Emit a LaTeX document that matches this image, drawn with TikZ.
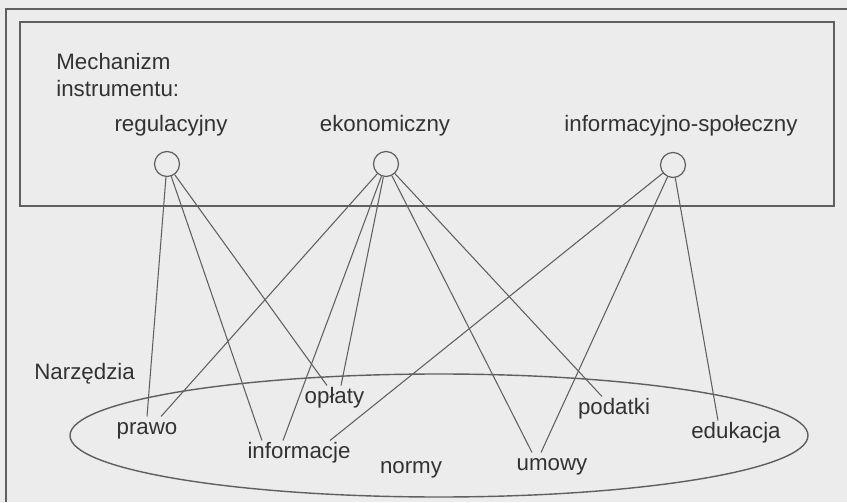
\documentclass[tikz,border=0pt]{standalone}
\usepackage{fontspec}
\setmainfont{Liberation Sans}
\usepackage{tikz}

\definecolor{scanbg}{RGB}{236,236,236}
\definecolor{ink}{RGB}{50,50,50}
\definecolor{wire}{RGB}{95,95,95}

\begin{document}
\begin{tikzpicture}[
    txt/.style={font=\fontsize{12.7}{15.3}\selectfont, text=ink, inner sep=0pt},
    tool/.style={txt, anchor=base, inner sep=0.09cm, text height=0.72em, text depth=0.2em},
    mech/.style={circle, draw=wire, line width=0.7pt, minimum size=0.5cm, inner sep=0pt},
    link/.style={draw=wire, line width=0.6pt}
]

    % Page (scan background)
    \path[use as bounding box, fill=scanbg] (0,0) rectangle (16.94,10.04);

    % =====================================================
    % FRAMES
    % =====================================================
    \draw[wire, line width=1.1pt] (0.12,0) -- (0.12,9.86) -- (16.94,9.86);
    \draw[wire, line width=1.1pt] (0.40,5.92) rectangle (16.68,9.60);

    % =====================================================
    % TOP: MECHANISMS
    % =====================================================
    \node[txt, anchor=north west, align=left] (title) at (1.12,8.98) {Mechanizm\\instrumentu:};

    \node[txt, anchor=base] (regT) at (3.42,7.40) {regulacyjny};
    \node[txt, anchor=base] (ekoT) at (7.70,7.40) {ekonomiczny};
    \node[txt, anchor=base] (infT) at (13.62,7.40) {informacyjno-społeczny};

    \node[mech] (reg) at (3.34,6.76) {};
    \node[mech] (eko) at (7.72,6.76) {};
    \node[mech] (inf) at (13.46,6.74) {};

    % =====================================================
    % BOTTOM: TOOLS
    % =====================================================
    \node[txt, anchor=base west] (tools) at (0.68,2.46) {Narzędzia};

    % The set of tools
    \draw[wire, line width=0.8pt] (8.78,1.33) ellipse (7.38 and 1.23);

    \node[tool] (prawo)    at (2.94,1.36)  {prawo};
    \node[tool] (oplaty)   at (6.69,1.98)  {opłaty};
    \node[tool] (info)     at (5.98,0.88)  {informacje};
    \node[tool] (normy)    at (8.22,0.58)  {normy};
    \node[tool] (umowy)    at (11.04,0.64) {umowy};
    \node[tool] (podatki)  at (12.28,1.76) {podatki};
    \node[tool] (edukacja) at (14.72,1.28) {edukacja};

    % =====================================================
    % LINKS
    % =====================================================
    % regulacyjny
    \draw[link] (reg) -- (prawo.north);
    \draw[link] (reg) -- ([xshift=-0.74cm]info.north);
    \draw[link] (reg) -- ([xshift=-0.15cm]oplaty.north);

    % ekonomiczny
    \draw[link] (eko) -- ([xshift=0.28cm]prawo.north);
    \draw[link] (eko) -- ([xshift=-0.32cm]info.north);
    \draw[link] (eko) -- ([xshift=0.13cm]oplaty.north);
    \draw[link] (eko) -- ([xshift=-0.40cm]umowy.north);
    \draw[link] (eko) -- ([xshift=-0.24cm]podatki.north);

    % informacyjno-spoleczny
    \draw[link] (inf) -- ([xshift=0.62cm]info.north);
    \draw[link] (inf) -- ([xshift=-0.22cm]umowy.north);
    \draw[link] (inf) -- ([xshift=-0.36cm]edukacja.north);

\end{tikzpicture}
\end{document}
